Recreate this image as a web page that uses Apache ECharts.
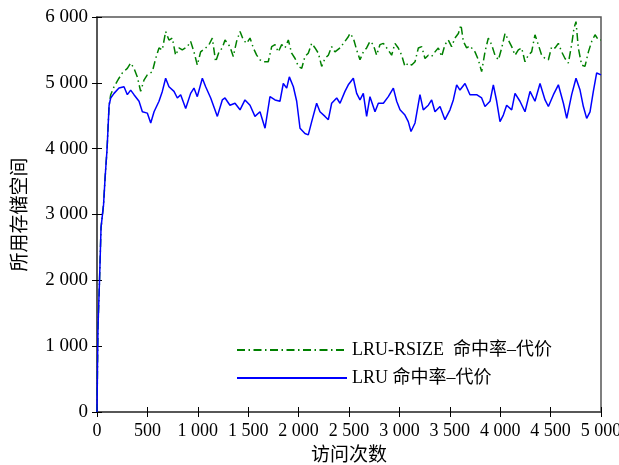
<!DOCTYPE html>
<html>
  <head>
    <meta charset="utf-8">
    <title>ECharts</title>
    <style type="text/css">
    html,body{margin:0;padding:0;background:#fff;}
    #main{width:619px;height:465px;}
    </style>
    <script src="https://cdn.jsdelivr.net/npm/echarts@6/dist/echarts.min.js"></script>
  </head>
  <body>
    <div id="main"></div>
    <script type="text/javascript">
      // 访问次数 / 所用存储空间
      var lruX = [0,5,10,25,40,65,80,100,120,136,169,218,268,301,334,367,417,450,499,533,566,615,648,681,714,764,797,830,880,929,962,995,1045,1078,1128,1194,1243,1270,1319,1369,1419,1468,1518,1567,1617,1667,1716,1766,1815,1848,1882,1908,1948,1981,2014,2063,2096,2130,2179,2212,2262,2295,2328,2378,2411,2460,2493,2543,2576,2609,2642,2675,2708,2758,2791,2841,2890,2940,2973,3006,3055,3088,3115,3155,3204,3237,3287,3320,3353,3403,3452,3502,3535,3568,3601,3651,3700,3766,3816,3849,3899,3932,3965,3998,4031,4064,4114,4147,4196,4246,4296,4345,4395,4445,4478,4528,4577,4627,4660,4709,4752,4792,4825,4858,4891,4924,4957,5000];
      var lruY = [0,700,1300,2000,2800,3150,3550,4000,4660,4770,4840,4920,4940,4820,4890,4820,4720,4560,4540,4390,4560,4720,4870,5070,4940,4870,4770,4820,4610,4840,4920,4790,5070,4940,4770,4490,4740,4770,4660,4690,4590,4740,4660,4490,4560,4310,4790,4740,4720,4990,4920,5090,4940,4720,4310,4230,4210,4410,4690,4560,4490,4440,4690,4770,4690,4870,4970,5070,4840,4740,4840,4490,4790,4560,4690,4690,4790,4920,4720,4590,4510,4410,4260,4390,4820,4590,4660,4740,4560,4640,4440,4590,4740,4970,4890,4990,4820,4820,4770,4640,4720,4970,4720,4410,4510,4660,4590,4840,4720,4560,4870,4720,4990,4740,4640,4820,4970,4690,4460,4820,5070,4890,4640,4460,4560,4870,5150,5120];

      var rsizeX = [0,5,10,25,40,65,80,100,120,136,169,218,251,301,334,367,400,433,466,499,549,582,615,648,681,714,747,780,813,846,896,929,962,995,1028,1078,1111,1144,1177,1210,1243,1270,1319,1352,1385,1419,1452,1485,1518,1551,1584,1617,1650,1699,1733,1766,1799,1832,1865,1898,1931,1965,1998,2031,2063,2096,2130,2163,2196,2229,2262,2295,2328,2361,2411,2460,2493,2510,2543,2576,2609,2642,2675,2708,2741,2774,2807,2841,2874,2923,2956,2989,3022,3055,3088,3122,3155,3188,3221,3254,3287,3320,3353,3386,3419,3452,3485,3518,3551,3585,3611,3634,3667,3700,3750,3783,3816,3849,3882,3915,3948,3982,4015,4048,4081,4114,4147,4180,4213,4246,4279,4312,4345,4378,4411,4445,4478,4511,4544,4577,4610,4643,4676,4709,4732,4752,4775,4808,4841,4875,4908,4941,4974,5000];
      var rsizeY = [0,700,1300,2000,2800,3150,3550,4000,4660,4820,4940,5070,5150,5220,5300,5220,5090,4870,5040,5120,5170,5370,5530,5500,5780,5650,5680,5420,5530,5500,5550,5630,5470,5270,5470,5530,5580,5680,5320,5470,5530,5650,5550,5400,5630,5780,5650,5600,5680,5530,5420,5350,5320,5320,5550,5580,5470,5580,5530,5650,5450,5370,5250,5220,5400,5450,5600,5530,5450,5250,5370,5420,5550,5470,5530,5630,5700,5750,5680,5500,5350,5470,5530,5630,5580,5420,5580,5600,5530,5420,5600,5530,5420,5250,5300,5270,5320,5530,5550,5370,5420,5400,5470,5530,5400,5580,5650,5550,5680,5750,5880,5630,5530,5560,5470,5350,5170,5470,5680,5580,5420,5350,5530,5750,5650,5550,5420,5500,5530,5320,5420,5470,5730,5580,5420,5370,5350,5550,5530,5600,5470,5370,5300,5580,5830,5930,5530,5270,5250,5470,5630,5730,5650,5650];

      var yTicks = [0,1000,2000,3000,4000,5000,6000];
      var seriesNames = ['LRU-RSIZE  命中率–代价', 'LRU 命中率–代价'];

      function pairs(xs, ys){
        var out = [];
        for (var i = 0; i < xs.length; i++) out.push([xs[i], ys[i]]);
        return out;
      }
      function fmt(v){
        if (v < 1000) return String(v);
        var r = String(v % 1000);
        while (r.length < 3) r = '0' + r;
        return Math.floor(v / 1000) + ' ' + r;
      }

      var font = '"Liberation Serif", "Noto Sans CJK SC", serif';
      var tickStyle = {show:true, inside:true, length:5, lineStyle:{color:'#000', width:1}};
      var lineAxis = {show:true, lineStyle:{color:'#555', width:1.5}};

      var myChart = echarts.init(document.getElementById('main'));
      var option = {
        backgroundColor: '#fff',
        animation: false,
        textStyle: {fontFamily: font},
        grid: {left:97, right:18, top:17, bottom:53, show:true, borderColor:'#555', borderWidth:1.5,
               containLabel:false, outerBoundsMode:'none'},
        legend: {
          orient: 'vertical',
          left: 236,
          top: 341,
          padding: 0,
          itemWidth: 110,
          itemHeight: 20,
          itemGap: 10,
          itemTextGap: 4,
          selectedMode: false,
          itemStyle: {opacity: 0},
          textStyle: {fontFamily: font, fontSize: 18, color: '#000'},
          data: [seriesNames[0], seriesNames[1]]
        },
        xAxis: [
          {
            type: 'value', min: 0, max: 5000, interval: 500,
            name: '访问次数', nameLocation: 'middle', nameGap: 35,
            nameTextStyle: {fontFamily: font, fontSize: 19, color: '#000'},
            axisLine: lineAxis, axisTick: tickStyle, splitLine: {show:false},
            axisLabel: {formatter: fmt, color:'#000', fontSize: 18, fontFamily: font, margin: 10}
          },
          {
            type: 'value', position: 'top', min: 0, max: 5000, interval: 500,
            axisLine: lineAxis, axisTick: tickStyle, splitLine: {show:false},
            axisLabel: {show:false}
          }
        ],
        yAxis: [
          {
            type: 'value', min: yTicks[0], max: yTicks[yTicks.length - 1], interval: 1000,
            name: '所用存储空间', nameLocation: 'middle', nameGap: 66, nameRotate: 90,
            nameTextStyle: {fontFamily: font, fontSize: 19, color: '#000'},
            axisLine: lineAxis, axisTick: tickStyle, splitLine: {show:false},
            axisLabel: {formatter: fmt, color:'#000', fontSize: 19, fontFamily: font, margin: 9}
          },
          {
            type: 'value', position: 'right', min: 0, max: 6000, interval: 1000,
            axisLine: lineAxis, axisTick: tickStyle, splitLine: {show:false},
            axisLabel: {show:false}
          }
        ],
        series: [
          {
            name: seriesNames[0],
            type: 'line',
            showSymbol: false,
            symbol: 'none',
            data: pairs(rsizeX, rsizeY),
            lineStyle: {color:'#008000', width:1.5, type:[8,3.5,1.5,3.5]},
            itemStyle: {color:'#008000'}
          },
          {
            name: seriesNames[1],
            type: 'line',
            showSymbol: false,
            symbol: 'none',
            data: pairs(lruX, lruY),
            lineStyle: {color:'#0000ff', width:1.5},
            itemStyle: {color:'#0000ff'}
          }
        ]
      };
      myChart.setOption(option);
    </script>
  </body>
</html>
